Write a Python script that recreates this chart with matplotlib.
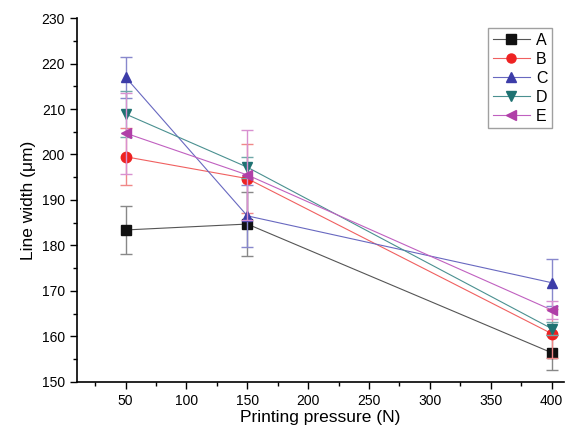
import numpy as np
import matplotlib.pyplot as plt
from matplotlib.ticker import MultipleLocator
from matplotlib.lines import Line2D

plt.rcParams['font.family'] = ['Liberation Sans', 'DejaVu Sans']

pressure = [50, 150, 400]
labels = ['A', 'B', 'C', 'D', 'E']

A = [183.4, 184.7, 156.4]
B = [199.5, 194.7, 160.6]
C = [217.0, 186.5, 171.8]
D = [208.9, 197.2, 161.7]
E = [204.7, 195.5, 165.8]

A_err = [5.3, 7.1, 3.8]
B_err = [6.3, 7.5, 5.4]
C_err = [4.5, 6.8, 5.2]
D_err = [5.0, 2.3, 1.5]
E_err = [8.9, 9.9, 2.0]

series = [A, B, C, D, E]
errs = [A_err, B_err, C_err, D_err, E_err]
colors = ['#111111', '#ee2222', '#3c3ca8', '#1f7272', '#b03fa8']
ecolors = ['#888888', '#f08888', '#8888cc', '#70a8a8', '#d890d0']
lcolors = ['#555555', '#f06060', '#6868c0', '#4a9090', '#c060c0']
markers = ['s', 'o', '^', 'v', '<']

fig = plt.figure(figsize=(5.65, 4.3), dpi=100)
ax = fig.add_axes([0.136, 0.112, 0.862, 0.846])

handles = []
for y, e, lab, c, ec, lc, m in zip(series, errs, labels, colors, ecolors, lcolors, markers):
    ax.errorbar(pressure, y, yerr=e, fmt='none', ecolor=ec, elinewidth=1.0,
                capsize=4, capthick=1.0)
    ax.plot(pressure, y, color=lc, linewidth=0.8)
    ax.plot(pressure, y, linestyle='none', marker=m, markersize=7.5,
            color=c)
    handles.append(Line2D([], [], color=lc, linewidth=0.8, marker=m,
                          markersize=6.5, markerfacecolor=c,
                          markeredgecolor=c, label=lab))

ax.set_xlim(10, 410)
ax.set_ylim(150, 230)
ax.xaxis.set_minor_locator(MultipleLocator(25))
ax.yaxis.set_major_locator(MultipleLocator(10))
ax.yaxis.set_minor_locator(MultipleLocator(5))
ax.set_xticks([50, 100, 150, 200, 250, 300, 350, 400])
ax.tick_params(which='major', direction='out', length=5, width=1, labelsize=10)
ax.tick_params(which='minor', direction='out', length=3, width=1)
ax.spines['top'].set_visible(False)
ax.spines['right'].set_visible(False)
ax.spines['left'].set_linewidth(1.2)
ax.spines['bottom'].set_linewidth(1.2)

ax.set_xlabel('Printing pressure (N)', fontsize=12.5, labelpad=2)
ax.set_ylabel('Line width (μm)', fontsize=12.5)

leg = ax.legend(handles=handles, loc='upper right', fontsize=11.5,
                frameon=True, fancybox=False, edgecolor='#888888',
                handlelength=2.3, borderpad=0.3, labelspacing=0.25,
                handletextpad=0.4, bbox_to_anchor=(0.993, 0.995))
leg.get_frame().set_linewidth(1.0)

fig.savefig('out.png', dpi=100)
